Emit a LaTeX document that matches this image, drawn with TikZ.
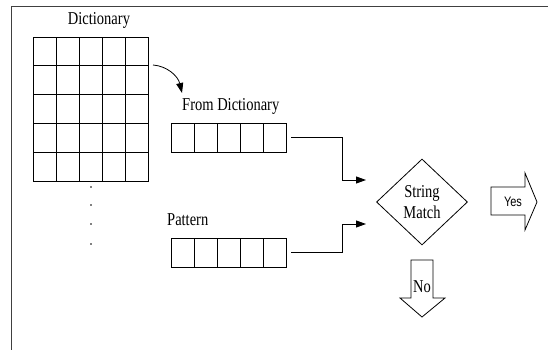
\documentclass[tikz,border=0pt]{standalone}
\usepackage{fontspec}
\setmainfont{Liberation Serif}
\newfontfamily\sansyes{Liberation Sans}
\usetikzlibrary{shapes.geometric,arrows.meta}
\newcommand{\vst}[1]{\scalebox{1}[1.25]{#1}}
\begin{document}
\begin{tikzpicture}[x=1pt,y=-1pt,
  cell/.style={draw, line width=0.9pt, minimum width=23pt, minimum height=28.8pt, inner sep=0pt, outer sep=0pt},
  lbl/.style={font=\fontsize{14.5}{18}\selectfont, inner sep=0pt},
  conn/.style={line width=0.9pt, -{Triangle[length=10pt,width=7pt]}},
  blockarrow/.style={draw, line width=0.8pt, line join=miter}]
\useasboundingbox (0,0) rectangle (548,350);
% frame
\draw[line width=1pt, black!75] (11,351) -- (11,7) -- (549,7);
% dictionary grid
\foreach \i in {0,...,4} {
  \foreach \j in {0,...,4} {
    \node[cell] (d\i\j) at (44.5+23*\j, 51.4+28.8*\i) {};
  }
}
\node[lbl] (dictlbl) at (99,20) {\vst{Dictionary}};
% dots
\foreach \k/\yy in {1/187,2/205,3/224,4/244} {
  \fill (91,\yy) circle (0.9pt) coordinate (dot\k);
}
% from dictionary row
\foreach \j in {0,...,4} {
  \node[cell, minimum height=29pt] (f\j) at (182.5+23*\j, 137.5) {};
  \node[cell, minimum height=29pt] (p\j) at (182.5+23*\j, 252.5) {};
}
\node[lbl, anchor=west] (fromlbl) at (182,106) {\vst{From Dictionary}};
\node[lbl, anchor=west] (patlbl) at (167,220) {\vst{Pattern}};
% curved arrow
\coordinate (c0) at (153,65);
\coordinate (c1) at (182,93);
\draw[conn, line width=0.8pt] (c0) .. controls (167,66) and (178,76) .. (c1);
% connectors
\coordinate (k1) at (342,180);
\coordinate (t1) at (366,180);
\coordinate (k2) at (342,224);
\coordinate (t2) at (366,224);
\draw[conn] ([xshift=5pt]f4.east) -| (k1) -- (t1);
\draw[conn] ([xshift=5pt]p4.east) -| (k2) -- (t2);
% diamond
\node[diamond, draw, line width=0.8pt, aspect=1.06, minimum width=91pt, minimum height=86pt, inner sep=0pt] (sm) at (422,202) {};
\node[lbl, align=center, font=\fontsize{14.5}{21}\selectfont] (smtxt) at (422,202.5) {\vst{String}\\\vst{Match}};
% yes arrow
\draw[blockarrow] (491,187) -- (525,187) -- (525,173) -- (537,202) -- (525,230) -- (525,215) -- (491,215) -- cycle;
\node[inner sep=0pt, font=\sansyes\fontsize{11}{13}\selectfont] (yes) at (513,201.5) {\vst{Yes}};
% no arrow
\draw[blockarrow] (411,260) -- (433,260) -- (433,298) -- (445,298) -- (422,317) -- (400,298) -- (411,298) -- cycle;
\node[lbl] (no) at (422,287) {\vst{No}};
\end{tikzpicture}
\end{document}
